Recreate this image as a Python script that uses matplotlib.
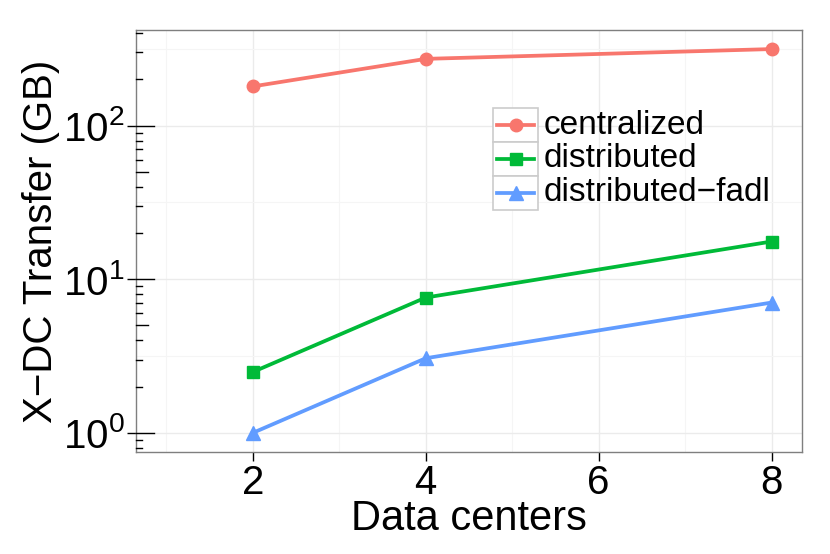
"""X-DC transfer vs number of data centers (log scale, ggplot-like look)."""

import matplotlib
matplotlib.use("Agg")
import matplotlib.pyplot as plt
from matplotlib.lines import Line2D
from matplotlib.patches import Rectangle
from matplotlib.ticker import FixedLocator

data_centers = [2, 4, 8]
centralized = [180, 272, 315]
distributed = [2.49, 7.6, 17.6]
distributed_fadl = [1.0, 3.06, 7.05]

series_names = ["centralized", "distributed", "distributed\u2212fadl"]
series_colors = ["#F8766D", "#00BA38", "#619CFF"]
series_markers = ["o", "s", "^"]

FONT = ["Liberation Sans", "DejaVu Sans"]
plt.rcParams["font.family"] = FONT
plt.rcParams["mathtext.fontset"] = "custom"
plt.rcParams["mathtext.rm"] = FONT[0]
plt.rcParams["mathtext.it"] = FONT[0]

fig = plt.figure(figsize=(8.3, 5.54), dpi=100)
ax = fig.add_axes([0.164, 0.184, 0.802, 0.762])

for vals, name, col, mk in zip([centralized, distributed, distributed_fadl],
                               series_names, series_colors, series_markers):
    ax.plot(data_centers, vals, color=col, marker=mk, linewidth=2.7,
            markersize=9 if mk != "^" else 10, label=name, zorder=3,
            clip_on=False)

ax.set_yscale("log")
ax.set_xlim(0.65, 8.35)
ax.set_ylim(10 ** -0.125, 10 ** 2.623)

# grid like theme_bw
ax.xaxis.set_major_locator(FixedLocator([2, 4, 6, 8]))
ax.xaxis.set_minor_locator(FixedLocator([1, 3, 5, 7]))
ax.yaxis.set_major_locator(FixedLocator([1, 10, 100]))
ax.yaxis.set_minor_locator(FixedLocator([10 ** 0.5, 10 ** 1.5, 10 ** 2.5]))
ax.set_yticklabels(["$10^{0}$", "$10^{1}$", "$10^{2}$"])
ax.grid(which="major", color="#ebebeb", linewidth=1.0)
ax.grid(which="minor", color="#f5f5f5", linewidth=0.8)
ax.set_axisbelow(True)

for sp in ax.spines.values():
    sp.set_color("#7f7f7f")
    sp.set_linewidth(1.0)

ax.tick_params(which="major", direction="out", length=6.5, width=1.0,
               color="black", labelsize=29, pad=2)
ax.tick_params(which="minor", length=0)

# annotation_logticks style ticks on the left side (inside the panel)
trans = ax.get_yaxis_transform()
ax_w_px = 0.802 * 830
for dec in [0.1, 1, 10, 100]:
    for m in range(1, 10):
        v = dec * m
        if v < 10 ** -0.125 or v > 10 ** 2.623:
            continue
        L = 18 if m == 1 else (12 if m == 5 else 6)
        ax.plot([0, L / ax_w_px], [v, v], transform=trans, color="black",
                linewidth=1.0, clip_on=False, zorder=4)

ax.set_xlabel("Data centers", fontsize=30, labelpad=-2)
ax.set_ylabel("X\u2212DC Transfer (GB)", fontsize=29, labelpad=2)

# legend with boxed keys (ggplot style)
key_left, key_w = 0.536, 0.068
key_tops = [0.815, 0.735, 0.654]
key_h = 0.0805
for top, name, col, mk in zip(key_tops, series_names, series_colors,
                              series_markers):
    ax.add_patch(Rectangle((key_left, top - key_h), key_w, key_h,
                           transform=ax.transAxes, facecolor="white",
                           edgecolor="#cccccc", linewidth=1.2, zorder=5))
    yc = top - key_h / 2
    ax.add_line(Line2D([key_left + 0.006, key_left + key_w - 0.006], [yc, yc],
                       transform=ax.transAxes, color=col, linewidth=2.7,
                       zorder=6))
    ax.add_line(Line2D([key_left + key_w / 2], [yc], transform=ax.transAxes,
                       color=col, marker=mk,
                       markersize=9 if mk != "^" else 10, zorder=7))
    ax.text(key_left + key_w + 0.008, yc, name, transform=ax.transAxes,
            fontsize=24, va="center", ha="left", zorder=7)

fig.savefig("out.png", dpi=100)
